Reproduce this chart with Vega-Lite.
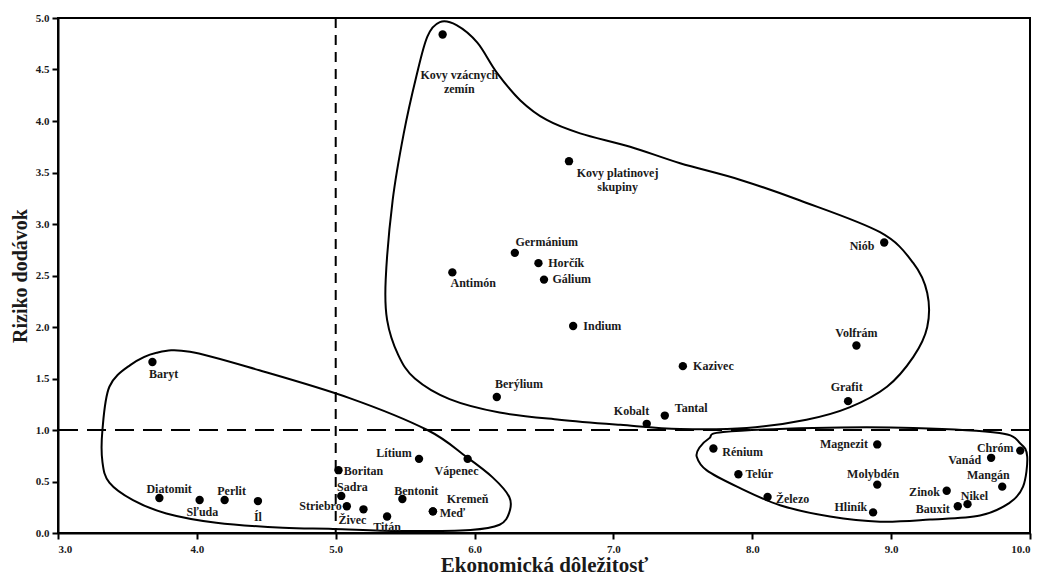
{
  "$schema": "https://vega.github.io/schema/vega-lite/v6.json",
  "width": 972,
  "height": 515,
  "autosize": {"type": "none"},
  "padding": {"left": 58, "top": 18, "right": 12, "bottom": 43},
  "background": "white",
  "config": {
    "view": {"stroke": "black", "strokeWidth": 2},
    "axis": {
      "grid": false,
      "domainColor": "black",
      "domainWidth": 2,
      "tickColor": "black",
      "tickWidth": 2,
      "tickSize": 6,
      "labelFont": "Liberation Serif",
      "labelFontWeight": "bold",
      "labelFontSize": 11,
      "labelColor": "#1a1a1a",
      "labelPadding": 3,
      "titleFont": "Liberation Serif",
      "titleFontWeight": "bold",
      "titleColor": "#1a1a1a"
    }
  },
  "datasets": {
    "pts": [
      {"name": "Kovy vzácnych\nzemín", "x": 5.77, "y": 4.84, "lx": 5.89, "ly": 4.45},
      {"name": "Kovy platinovej\nskupiny", "x": 6.68, "y": 3.61, "lx": 7.03, "ly": 3.5},
      {"name": "Germánium", "x": 6.29, "y": 2.72, "lx": 6.52, "ly": 2.83},
      {"name": "Horčík", "x": 6.46, "y": 2.62, "lx": 6.66, "ly": 2.62},
      {"name": "Gálium", "x": 6.5, "y": 2.46, "lx": 6.7, "ly": 2.47},
      {"name": "Antimón", "x": 5.84, "y": 2.53, "lx": 5.99, "ly": 2.43},
      {"name": "Indium", "x": 6.71, "y": 2.01, "lx": 6.92, "ly": 2.01},
      {"name": "Kazivec", "x": 7.5, "y": 1.62, "lx": 7.72, "ly": 1.62},
      {"name": "Berýlium", "x": 6.16, "y": 1.32, "lx": 6.32, "ly": 1.45},
      {"name": "Kobalt", "x": 7.24, "y": 1.06, "lx": 7.13, "ly": 1.18},
      {"name": "Tantal", "x": 7.37, "y": 1.14, "lx": 7.56, "ly": 1.21},
      {"name": "Niób", "x": 8.95, "y": 2.82, "lx": 8.79, "ly": 2.79},
      {"name": "Volfrám", "x": 8.75, "y": 1.82, "lx": 8.75, "ly": 1.94},
      {"name": "Grafit", "x": 8.69, "y": 1.28, "lx": 8.68, "ly": 1.42},
      {"name": "Baryt", "x": 3.68, "y": 1.66, "lx": 3.76, "ly": 1.54},
      {"name": "Diatomit", "x": 3.73, "y": 0.34, "lx": 3.8, "ly": 0.43},
      {"name": "Sľuda", "x": 4.02, "y": 0.32, "lx": 4.04, "ly": 0.2},
      {"name": "Perlit", "x": 4.2, "y": 0.32, "lx": 4.25, "ly": 0.41},
      {"name": "Íl", "x": 4.44, "y": 0.31, "lx": 4.44, "ly": 0.16},
      {"name": "Boritan", "x": 5.02, "y": 0.61, "lx": 5.2, "ly": 0.6},
      {"name": "Sadra", "x": 5.04, "y": 0.36, "lx": 5.12, "ly": 0.45},
      {"name": "Striebro", "x": 5.08, "y": 0.26, "lx": 4.89, "ly": 0.26},
      {"name": "Živec", "x": 5.2, "y": 0.23, "lx": 5.12, "ly": 0.13},
      {"name": "Titán", "x": 5.37, "y": 0.16, "lx": 5.37, "ly": 0.06},
      {"name": "Bentonit", "x": 5.48, "y": 0.33, "lx": 5.58, "ly": 0.41},
      {"name": "Kremeň", "x": 5.7, "y": 0.21, "lx": 5.95, "ly": 0.33},
      {"name": "Meď", "x": 5.7, "y": 0.21, "lx": 5.84, "ly": 0.19},
      {"name": "Lítium", "x": 5.6, "y": 0.72, "lx": 5.42, "ly": 0.78},
      {"name": "Vápenec", "x": 5.95, "y": 0.72, "lx": 5.87, "ly": 0.6},
      {"name": "Rénium", "x": 7.72, "y": 0.82, "lx": 7.93, "ly": 0.79},
      {"name": "Telúr", "x": 7.9, "y": 0.57, "lx": 8.05, "ly": 0.57},
      {"name": "Železo", "x": 8.11, "y": 0.35, "lx": 8.29, "ly": 0.33},
      {"name": "Magnezit", "x": 8.9, "y": 0.86, "lx": 8.66, "ly": 0.86},
      {"name": "Molybdén", "x": 8.9, "y": 0.47, "lx": 8.87, "ly": 0.57},
      {"name": "Hliník", "x": 8.87, "y": 0.2, "lx": 8.71, "ly": 0.25},
      {"name": "Zinok", "x": 9.4, "y": 0.41, "lx": 9.24, "ly": 0.4},
      {"name": "Bauxit", "x": 9.48, "y": 0.26, "lx": 9.3, "ly": 0.23},
      {"name": "Nikel", "x": 9.55, "y": 0.28, "lx": 9.6, "ly": 0.36},
      {"name": "Mangán", "x": 9.8, "y": 0.45, "lx": 9.7, "ly": 0.56},
      {"name": "Vanád", "x": 9.72, "y": 0.73, "lx": 9.53, "ly": 0.71},
      {"name": "Chróm", "x": 9.93, "y": 0.8, "lx": 9.75, "ly": 0.83}
    ],
    "hull": [
      {"g": "A", "o": 1, "x": 3.71, "y": 1.75},
      {"g": "A", "o": 2, "x": 3.95, "y": 1.76},
      {"g": "A", "o": 3, "x": 4.45, "y": 1.58},
      {"g": "A", "o": 4, "x": 5.1, "y": 1.31},
      {"g": "A", "o": 5, "x": 5.66, "y": 1.0},
      {"g": "A", "o": 6, "x": 5.94, "y": 0.74},
      {"g": "A", "o": 7, "x": 6.13, "y": 0.54},
      {"g": "A", "o": 8, "x": 6.25, "y": 0.35},
      {"g": "A", "o": 9, "x": 6.25, "y": 0.2},
      {"g": "A", "o": 10, "x": 6.18, "y": 0.08},
      {"g": "A", "o": 11, "x": 5.97, "y": 0.03},
      {"g": "A", "o": 12, "x": 5.46, "y": 0.02},
      {"g": "A", "o": 13, "x": 4.98, "y": 0.04},
      {"g": "A", "o": 14, "x": 4.62, "y": 0.05},
      {"g": "A", "o": 15, "x": 4.14, "y": 0.1},
      {"g": "A", "o": 16, "x": 3.78, "y": 0.19},
      {"g": "A", "o": 17, "x": 3.54, "y": 0.32},
      {"g": "A", "o": 18, "x": 3.37, "y": 0.49},
      {"g": "A", "o": 19, "x": 3.32, "y": 0.69},
      {"g": "A", "o": 20, "x": 3.32, "y": 1.0},
      {"g": "A", "o": 21, "x": 3.37, "y": 1.42},
      {"g": "A", "o": 22, "x": 3.52, "y": 1.63},
      {"g": "B", "o": 1, "x": 5.75, "y": 4.96},
      {"g": "B", "o": 2, "x": 5.87, "y": 4.93},
      {"g": "B", "o": 3, "x": 6.02, "y": 4.76},
      {"g": "B", "o": 4, "x": 6.16, "y": 4.47},
      {"g": "B", "o": 5, "x": 6.33, "y": 4.2},
      {"g": "B", "o": 6, "x": 6.52, "y": 4.01},
      {"g": "B", "o": 7, "x": 6.76, "y": 3.88},
      {"g": "B", "o": 8, "x": 7.12, "y": 3.75},
      {"g": "B", "o": 9, "x": 7.48, "y": 3.59},
      {"g": "B", "o": 10, "x": 7.91, "y": 3.43},
      {"g": "B", "o": 11, "x": 8.34, "y": 3.23},
      {"g": "B", "o": 12, "x": 8.92, "y": 2.92},
      {"g": "B", "o": 13, "x": 9.16, "y": 2.62},
      {"g": "B", "o": 14, "x": 9.26, "y": 2.33},
      {"g": "B", "o": 15, "x": 9.26, "y": 2.0},
      {"g": "B", "o": 16, "x": 9.16, "y": 1.71},
      {"g": "B", "o": 17, "x": 8.97, "y": 1.42},
      {"g": "B", "o": 18, "x": 8.7, "y": 1.22},
      {"g": "B", "o": 19, "x": 8.39, "y": 1.1},
      {"g": "B", "o": 20, "x": 7.96, "y": 1.02},
      {"g": "B", "o": 21, "x": 7.48, "y": 1.01},
      {"g": "B", "o": 22, "x": 7.05, "y": 1.05},
      {"g": "B", "o": 23, "x": 6.61, "y": 1.1},
      {"g": "B", "o": 24, "x": 6.18, "y": 1.17},
      {"g": "B", "o": 25, "x": 5.82, "y": 1.3},
      {"g": "B", "o": 26, "x": 5.57, "y": 1.5},
      {"g": "B", "o": 27, "x": 5.45, "y": 1.73},
      {"g": "B", "o": 28, "x": 5.37, "y": 2.07},
      {"g": "B", "o": 29, "x": 5.36, "y": 2.46},
      {"g": "B", "o": 30, "x": 5.41, "y": 3.23},
      {"g": "B", "o": 31, "x": 5.49, "y": 3.88},
      {"g": "B", "o": 32, "x": 5.58, "y": 4.43},
      {"g": "B", "o": 33, "x": 5.66, "y": 4.82},
      {"g": "C", "o": 1, "x": 7.79, "y": 0.98},
      {"g": "C", "o": 2, "x": 8.44, "y": 1.02},
      {"g": "C", "o": 3, "x": 9.16, "y": 1.02},
      {"g": "C", "o": 4, "x": 9.78, "y": 0.97},
      {"g": "C", "o": 5, "x": 9.93, "y": 0.87},
      {"g": "C", "o": 6, "x": 9.98, "y": 0.74},
      {"g": "C", "o": 7, "x": 9.95, "y": 0.45},
      {"g": "C", "o": 8, "x": 9.85, "y": 0.29},
      {"g": "C", "o": 9, "x": 9.64, "y": 0.17},
      {"g": "C", "o": 10, "x": 9.28, "y": 0.13},
      {"g": "C", "o": 11, "x": 8.92, "y": 0.11},
      {"g": "C", "o": 12, "x": 8.56, "y": 0.16},
      {"g": "C", "o": 13, "x": 8.2, "y": 0.27},
      {"g": "C", "o": 14, "x": 7.89, "y": 0.45},
      {"g": "C", "o": 15, "x": 7.67, "y": 0.61},
      {"g": "C", "o": 16, "x": 7.6, "y": 0.74},
      {"g": "C", "o": 17, "x": 7.62, "y": 0.83},
      {"g": "C", "o": 18, "x": 7.69, "y": 0.92}
    ],
    "refs": [{"xr": 5, "yr": 1}]
  },
  "layer": [
    {
      "data": {"name": "hull"},
      "mark": {"type": "line", "interpolate": "cardinal-closed", "color": "black", "strokeWidth": 2},
      "encoding": {
        "x": {"field": "x", "type": "quantitative", "scale": {"domain": [3, 10], "nice": false, "zero": false},
              "axis": {"values": [3, 4, 5, 6, 7, 8, 9, 10], "format": ".1f", "title": "Ekonomická dôležitosť", "titleFontSize": 21, "titlePadding": 0, "labelPadding": 4}},
        "y": {"field": "y", "type": "quantitative", "scale": {"domain": [0, 5], "nice": false, "zero": false},
              "axis": {"values": [0, 0.5, 1, 1.5, 2, 2.5, 3, 3.5, 4, 4.5, 5], "format": ".1f", "title": "Riziko dodávok", "titleFontSize": 20, "titlePadding": 5}},
        "detail": {"field": "g"},
        "order": {"field": "o", "type": "quantitative"}
      }
    },
    {
      "data": {"name": "refs"},
      "mark": {"type": "rule", "color": "black", "strokeWidth": 2, "strokeDash": [19, 9]},
      "encoding": {"y": {"field": "yr", "type": "quantitative"}}
    },
    {
      "data": {"name": "refs"},
      "mark": {"type": "rule", "color": "black", "strokeWidth": 2, "strokeDash": [10, 7]},
      "encoding": {"x": {"field": "xr", "type": "quantitative"}}
    },
    {
      "data": {"name": "pts"},
      "mark": {"type": "circle", "color": "black", "opacity": 1, "size": 70},
      "encoding": {
        "x": {"field": "x", "type": "quantitative"},
        "y": {"field": "y", "type": "quantitative"}
      }
    },
    {
      "data": {"name": "pts"},
      "mark": {"type": "text", "font": "Liberation Serif", "fontWeight": "bold", "fontSize": 12, "color": "#1a1a1a", "align": "center", "baseline": "middle", "lineBreak": "\n", "lineHeight": 14},
      "encoding": {
        "x": {"field": "lx", "type": "quantitative"},
        "y": {"field": "ly", "type": "quantitative"},
        "text": {"field": "name"}
      }
    }
  ]
}
